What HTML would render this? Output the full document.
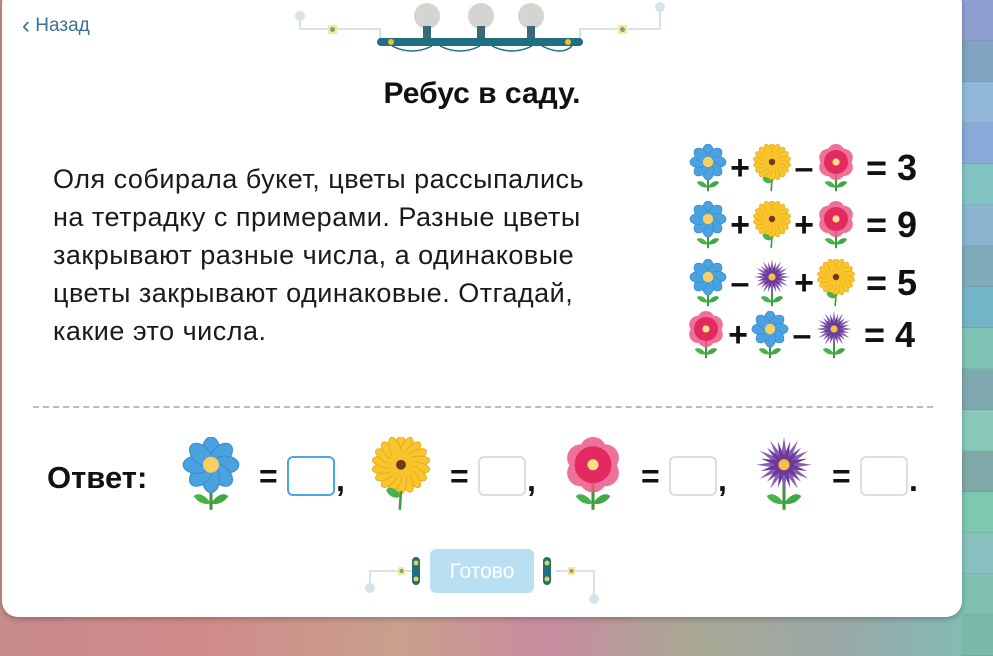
<!DOCTYPE html>
<html><head><meta charset="utf-8">
<style>
html,body{margin:0;padding:0;}
body{width:993px;height:630px;position:relative;overflow:hidden;font-family:"Liberation Sans",sans-serif;
background:linear-gradient(90deg,#c88a8a 0%,#d08a8a 20%,#c9a08c 40%,#c98ca0 55%,#a8a894 70%,#9aa8a8 85%,#7fc0b8 100%);}
#right{position:absolute;left:962px;top:0;width:31px;height:630px;}
#right div{height:40px;border-bottom:1px solid rgba(0,0,0,.06);}
#card{position:absolute;left:2px;top:-12px;width:960px;height:629px;background:#fff;border-radius:16px;box-shadow:0 2px 6px rgba(0,0,0,.25);}
.abs{position:absolute;}
#back{left:22px;top:10px;color:#3c6f94;font-size:19px;}
#title{left:0;width:964px;top:77px;text-align:center;font-weight:bold;font-size:30px;color:#111;}
#para{left:53px;top:160px;font-size:27px;line-height:38px;color:#1a1a1a;letter-spacing:0.5px;}
.eq{position:absolute;left:688px;height:50px;display:flex;align-items:center;font-weight:bold;font-size:36px;color:#111;}
.eq svg{width:40px;height:48px;}
.op{width:24px;text-align:center;font-size:34px;}
.res{margin-left:10px;}
#dash{left:33px;top:406px;width:900px;border-top:2px dashed #bbb;}
#ans{left:47px;top:460px;font-weight:bold;font-size:31px;color:#111;}
.af{position:absolute;top:437px;width:62px;height:74px;}
.aeq{position:absolute;top:458px;font-weight:bold;font-size:32px;color:#111;}
.box{position:absolute;top:456px;width:44px;height:36px;border:2px solid #ddd;border-radius:6px;}
.cm{position:absolute;top:462px;font-weight:bold;font-size:32px;color:#111;}
#btn{left:430px;top:549px;width:104px;height:44px;background:#b8dff2;border-radius:6px;color:#fff;font-size:21px;text-align:center;line-height:46px;}
</style></head><body>
<div id="right">
<div style="background:#8d9fd0"></div><div style="background:#7fa5c0"></div><div style="background:#90b7d8"></div><div style="background:#8aa8d8"></div><div style="background:#82c4c4"></div><div style="background:#8cb4d0"></div><div style="background:#7fabb8"></div><div style="background:#74b4c8"></div><div style="background:#7fc4b4"></div><div style="background:#80a8b0"></div><div style="background:#88c8b8"></div><div style="background:#80a8a8"></div><div style="background:#7cc8b0"></div><div style="background:#88c0c0"></div><div style="background:#80c0b0"></div><div style="background:#7ab8a8"></div>
</div>
<svg width="0" height="0" style="position:absolute">
<defs>
<symbol id="stem" viewBox="0 0 100 120"><path d="M50 60 L50 118" stroke="#3a9a3a" stroke-width="5"/><path d="M50 108 C40 92 28 90 22 96 C30 108 42 110 50 108Z" fill="#49b24a"/><path d="M50 108 C60 92 72 90 78 96 C70 108 58 110 50 108Z" fill="#3fa845"/></symbol>
<symbol id="blue" viewBox="0 0 100 120"><use href="#stem"/>
<g fill="#4aa3e0" stroke="#3a8fcc" stroke-width="2">
<ellipse cx="50" cy="22" rx="14" ry="22"/><ellipse cx="50" cy="22" rx="14" ry="22" transform="rotate(45 50 45)"/><ellipse cx="50" cy="22" rx="14" ry="22" transform="rotate(90 50 45)"/><ellipse cx="50" cy="22" rx="14" ry="22" transform="rotate(135 50 45)"/><ellipse cx="50" cy="22" rx="14" ry="22" transform="rotate(180 50 45)"/><ellipse cx="50" cy="22" rx="14" ry="22" transform="rotate(225 50 45)"/><ellipse cx="50" cy="22" rx="14" ry="22" transform="rotate(270 50 45)"/><ellipse cx="50" cy="22" rx="14" ry="22" transform="rotate(315 50 45)"/></g>
<circle cx="50" cy="45" r="13" fill="#f8cf62"/></symbol>
<symbol id="yellow" viewBox="0 0 100 120">
<g fill="#f7c52c" stroke="#eaa816" stroke-width="1.5">
<ellipse cx="50" cy="20" rx="9" ry="22"/><ellipse cx="50" cy="20" rx="9" ry="22" transform="rotate(20 50 45)"/><ellipse cx="50" cy="20" rx="9" ry="22" transform="rotate(40 50 45)"/><ellipse cx="50" cy="20" rx="9" ry="22" transform="rotate(60 50 45)"/><ellipse cx="50" cy="20" rx="9" ry="22" transform="rotate(80 50 45)"/><ellipse cx="50" cy="20" rx="9" ry="22" transform="rotate(100 50 45)"/><ellipse cx="50" cy="20" rx="9" ry="22" transform="rotate(120 50 45)"/><ellipse cx="50" cy="20" rx="9" ry="22" transform="rotate(140 50 45)"/><ellipse cx="50" cy="20" rx="9" ry="22" transform="rotate(160 50 45)"/><ellipse cx="50" cy="20" rx="9" ry="22" transform="rotate(180 50 45)"/><ellipse cx="50" cy="20" rx="9" ry="22" transform="rotate(200 50 45)"/><ellipse cx="50" cy="20" rx="9" ry="22" transform="rotate(220 50 45)"/><ellipse cx="50" cy="20" rx="9" ry="22" transform="rotate(240 50 45)"/><ellipse cx="50" cy="20" rx="9" ry="22" transform="rotate(260 50 45)"/><ellipse cx="50" cy="20" rx="9" ry="22" transform="rotate(280 50 45)"/><ellipse cx="50" cy="20" rx="9" ry="22" transform="rotate(300 50 45)"/><ellipse cx="50" cy="20" rx="9" ry="22" transform="rotate(320 50 45)"/><ellipse cx="50" cy="20" rx="9" ry="22" transform="rotate(340 50 45)"/></g>
<circle cx="50" cy="45" r="22" fill="#f9c22a"/>
<circle cx="50" cy="45" r="8" fill="#6b3a1f"/>
<path d="M48 118 L50 88" stroke="#3a9a3a" stroke-width="4"/><path d="M50 95 C40 80 28 80 26 86 C30 98 44 102 50 95Z" fill="#49b24a"/></symbol>
<symbol id="red" viewBox="0 0 100 120"><use href="#stem"/>
<g fill="#ec5a86" opacity=".85"><circle cx="50" cy="22" r="22"/><circle cx="70" cy="34" r="22"/><circle cx="70" cy="58" r="22"/><circle cx="50" cy="68" r="22"/><circle cx="30" cy="58" r="22"/><circle cx="30" cy="34" r="22"/></g>
<circle cx="50" cy="45" r="30" fill="#e22a60"/>
<circle cx="50" cy="45" r="9" fill="#f8e08a"/></symbol>
<symbol id="purple" viewBox="0 0 100 120"><use href="#stem"/>
<g fill="#8a5cb8"><polygon points="50,0 57,45 43,45"/><polygon points="50,0 57,45 43,45" transform="rotate(30 50 45)"/><polygon points="50,0 57,45 43,45" transform="rotate(60 50 45)"/><polygon points="50,0 57,45 43,45" transform="rotate(90 50 45)"/><polygon points="50,0 57,45 43,45" transform="rotate(120 50 45)"/><polygon points="50,0 57,45 43,45" transform="rotate(150 50 45)"/><polygon points="50,0 57,45 43,45" transform="rotate(180 50 45)"/><polygon points="50,0 57,45 43,45" transform="rotate(210 50 45)"/><polygon points="50,0 57,45 43,45" transform="rotate(240 50 45)"/><polygon points="50,0 57,45 43,45" transform="rotate(270 50 45)"/><polygon points="50,0 57,45 43,45" transform="rotate(300 50 45)"/><polygon points="50,0 57,45 43,45" transform="rotate(330 50 45)"/></g>
<g fill="#6a3c98"><polygon points="50,6 56,45 44,45" transform="rotate(15 50 45)"/><polygon points="50,6 56,45 44,45" transform="rotate(45 50 45)"/><polygon points="50,6 56,45 44,45" transform="rotate(75 50 45)"/><polygon points="50,6 56,45 44,45" transform="rotate(105 50 45)"/><polygon points="50,6 56,45 44,45" transform="rotate(135 50 45)"/><polygon points="50,6 56,45 44,45" transform="rotate(165 50 45)"/><polygon points="50,6 56,45 44,45" transform="rotate(195 50 45)"/><polygon points="50,6 56,45 44,45" transform="rotate(225 50 45)"/><polygon points="50,6 56,45 44,45" transform="rotate(255 50 45)"/><polygon points="50,6 56,45 44,45" transform="rotate(285 50 45)"/><polygon points="50,6 56,45 44,45" transform="rotate(315 50 45)"/><polygon points="50,6 56,45 44,45" transform="rotate(345 50 45)"/></g>
<circle cx="50" cy="45" r="9" fill="#f7c04a"/></symbol>
</defs></svg>
<div id="card"></div>
<svg class="abs" style="left:280px;top:0" width="400" height="60">
<g stroke="#d6e4ea" stroke-width="2" fill="none"><path d="M20 16 V29 H100 V42"/><path d="M380 8 V29 H300 V42"/></g>
<circle cx="20" cy="16" r="5" fill="#d6e4ea"/><circle cx="380" cy="7" r="5" fill="#d6e4ea"/>
<rect x="48" y="25" width="9" height="9" fill="#f7e79a"/><circle cx="52.5" cy="29.5" r="2.5" fill="#8a9a80"/>
<rect x="338" y="25" width="9" height="9" fill="#f7e79a"/><circle cx="342.5" cy="29.5" r="2.5" fill="#8a9a80"/>
<rect x="97" y="38" width="206" height="8" rx="4" fill="#1f6f80"/>
<circle cx="111" cy="42" r="3" fill="#f0c030"/><circle cx="288" cy="42" r="3" fill="#f0c030"/>
<g fill="none" stroke="#1f6f80" stroke-width="1.5"><path d="M112 46 q20 10 40 0"/><path d="M160 46 q20 10 40 0"/><path d="M212 46 q20 10 40 0"/><path d="M262 46 q20 10 30 0"/></g>
<g fill="#d4d4d0"><circle cx="147" cy="16" r="13"/><circle cx="201" cy="16" r="13"/><circle cx="251" cy="16" r="13"/></g>
<g fill="#3a6a78"><rect x="143" y="26" width="8" height="12"/><rect x="197" y="26" width="8" height="12"/><rect x="247" y="26" width="8" height="12"/></g>
</svg>
<div class="abs" id="back"><span style="font-size:24px;position:relative;top:2px">&#x2039;</span>&nbsp;Назад</div>
<div class="abs" id="title">Ребус в саду.</div>
<div class="abs" id="para">Оля собирала букет, цветы рассыпались<br>на тетрадку с примерами. Разные цветы<br>закрывают разные числа, а одинаковые<br>цветы закрывают одинаковые. Отгадай,<br>какие это числа.</div>
<div class="eq" style="top:143px"><svg><use href="#blue"/></svg><span class="op">+</span><svg><use href="#yellow"/></svg><span class="op">–</span><svg><use href="#red"/></svg><span class="res">= 3</span></div>
<div class="eq" style="top:200px"><svg><use href="#blue"/></svg><span class="op">+</span><svg><use href="#yellow"/></svg><span class="op">+</span><svg><use href="#red"/></svg><span class="res">= 9</span></div>
<div class="eq" style="top:258px"><svg><use href="#blue"/></svg><span class="op">–</span><svg><use href="#purple"/></svg><span class="op">+</span><svg><use href="#yellow"/></svg><span class="res">= 5</span></div>
<div class="eq" style="top:310px;left:686px"><svg><use href="#red"/></svg><span class="op">+</span><svg><use href="#blue"/></svg><span class="op">–</span><svg><use href="#purple"/></svg><span class="res">= 4</span></div>
<div class="abs" id="dash"></div>
<div class="abs" id="ans">Ответ:</div>
<svg class="af" style="left:180px"><use href="#blue"/></svg>
<svg class="af" style="left:370px"><use href="#yellow"/></svg>
<svg class="af" style="left:562px"><use href="#red"/></svg>
<svg class="af" style="left:753px"><use href="#purple"/></svg>
<div class="aeq" style="left:259px">=</div><div class="box" style="left:287px;border-color:#4aa8e0"></div><div class="cm" style="left:336px">,</div>
<div class="aeq" style="left:450px">=</div><div class="box" style="left:478px"></div><div class="cm" style="left:527px">,</div>
<div class="aeq" style="left:641px">=</div><div class="box" style="left:669px"></div><div class="cm" style="left:718px">,</div>
<div class="aeq" style="left:832px">=</div><div class="box" style="left:860px"></div><div class="cm" style="left:909px">.</div>
<svg class="abs" style="left:360px;top:550px" width="250" height="60">
<g stroke="#d6e4ea" stroke-width="2" fill="none"><path d="M10 38 V21 H52"/><path d="M196 21 H234 V48"/></g>
<circle cx="10" cy="38" r="5" fill="#d6e4ea"/><circle cx="234" cy="49" r="5" fill="#d6e4ea"/>
<rect x="38" y="17" width="7" height="8" fill="#f7e79a"/><circle cx="41.5" cy="21" r="2" fill="#8a9a80"/>
<rect x="208" y="17" width="7" height="8" fill="#f7e79a"/><circle cx="211.5" cy="21" r="2" fill="#8a9a80"/>
<rect x="52" y="7" width="8" height="28" rx="4" fill="#1f6f80"/><circle cx="56" cy="13" r="2.5" fill="#e8d040"/><circle cx="56" cy="29" r="2.5" fill="#e8d040"/>
<rect x="183" y="7" width="8" height="28" rx="4" fill="#1f6f80"/><circle cx="187" cy="13" r="2.5" fill="#e8d040"/><circle cx="187" cy="29" r="2.5" fill="#e8d040"/>
</svg>
<div class="abs" id="btn">Готово</div>
</body></html>
